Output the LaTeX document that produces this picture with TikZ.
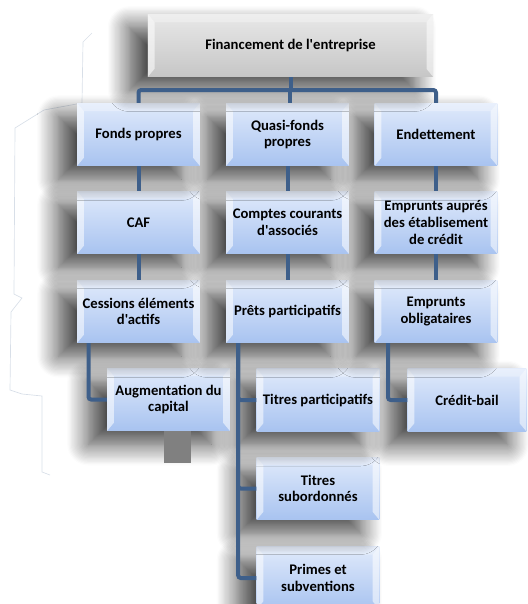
\documentclass[tikz,border=0pt]{standalone}
\usepackage{fontspec}
\setmainfont{Carlito}[Ligatures=TeXOff]
\usetikzlibrary{shadows.blur}
\definecolor{linkblue}{HTML}{3E5F8A}
\definecolor{boxtop}{HTML}{E0EAFB}
\definecolor{boxbot}{HTML}{A8C3F0}
\definecolor{graytop}{HTML}{E8E8E8}
\definecolor{graybot}{HTML}{C6C6C6}
\definecolor{faint}{HTML}{D8DFE8}
\tikzset{
  bevel/.style={path picture={
    \fill[white,opacity=.55] (path picture bounding box.north west) -- ([shift={(5pt,-6pt)}]path picture bounding box.north west) -- ([shift={(5pt,6pt)}]path picture bounding box.south west) -- (path picture bounding box.south west) -- cycle;
    \fill[white,opacity=.55] (path picture bounding box.north east) -- ([shift={(-5pt,-6pt)}]path picture bounding box.north east) -- ([shift={(-5pt,6pt)}]path picture bounding box.south east) -- (path picture bounding box.south east) -- cycle;
    \fill[white,opacity=.3] (path picture bounding box.north west) -- ([shift={(5pt,-6pt)}]path picture bounding box.north west) -- ([shift={(-5pt,-6pt)}]path picture bounding box.north east) -- (path picture bounding box.north east) -- cycle;
  }},
  sh/.style={blur shadow={shadow xshift=-14pt, shadow yshift=-10pt, shadow blur radius=16pt, shadow blur steps=18, shadow opacity=75}},
  box/.style={sh, bevel, top color=boxtop, bottom color=boxbot, minimum width=92pt, minimum height=47pt,
    align=center, font=\bfseries\fontsize{11}{12.5}\selectfont, inner sep=1pt},
  topbox/.style={box, top color=graytop, bottom color=graybot, minimum width=214pt},
  conn/.style={draw=linkblue, line width=3pt, rounded corners=2pt},
}
\begin{document}
\begin{tikzpicture}[x=0.75pt,y=-0.75pt]
\useasboundingbox (0,0) rectangle (528,604);
% faint outline
\draw[faint, line width=0.5pt] (92,33) -- (83,42) -- (82,103) -- (44,110) -- (15,128) -- (14,294) -- (22,298) -- (11,312) -- (10,390) -- (22,394) -- (42,396) -- (42,472) -- (50,475);
% nodes, drawn bottom-to-top, right-to-left
\node[box] (pr) at (318,578) {Primes et\\subventions};
\node[box] (ts) at (318,488.5) {Titres\\subordonnés};
\node[box, minimum width=89pt] (cb) at (467,400) {Crédit-bail};
\node[box] (tp) at (318,400) {Titres participatifs};
\node[box] (aug) at (168.5,399.5) {Augmentation du\\capital};
\node[box] (obl) at (436,311.5) {Emprunts\\obligataires};
\node[box] (pp) at (287.5,311.5) {Prêts participatifs};
\node[box] (ces) at (138.5,311.5) {Cessions éléments\\d'actifs};
\node[box] (ea) at (436,222.5) {Emprunts auprés\\des établisement\\de crédit};
\node[box] (cc) at (287.5,222.5) {Comptes courants\\d'associés};
\node[box] (caf) at (138.5,222.5) {CAF};
\node[box] (en) at (436,134.5) {Endettement};
\node[box] (qf) at (287.5,134.5) {Quasi-fonds\\propres};
\node[box] (fp) at (138.5,134.5) {Fonds propres};
\node[topbox] (top) at (290.5,45.5) {Financement de l'entreprise};
% gray square
\fill[gray] (164,431) rectangle (191,463);
% connectors
\coordinate (j) at (290,90);
\draw[conn] (top.south) -- (top.south |- j);
\draw[conn] (fp.north) |- (j) -| (en.north);
\draw[conn] (j) -- (j |- qf.north);
\draw[conn] (fp.south) -- (caf.north);
\draw[conn] (caf.south) -- (ces.north);
\draw[conn] (qf.south) -- (cc.north);
\draw[conn] (cc.south) -- (pp.north);
\draw[conn] (en.south) -- (ea.north);
\draw[conn] (ea.south) -- (obl.north);
\draw[conn] ([xshift=-37.5pt]ces.south) |- (aug.west);
\draw[conn] ([xshift=-37pt]pp.south) |- (tp.west);
\draw[conn] ([xshift=-37pt]pp.south) |- (ts.west);
\draw[conn] ([xshift=-37pt]pp.south) |- (pr.west);
\draw[conn] ([xshift=-36pt]obl.south) |- (cb.west);
\end{tikzpicture}
\end{document}
